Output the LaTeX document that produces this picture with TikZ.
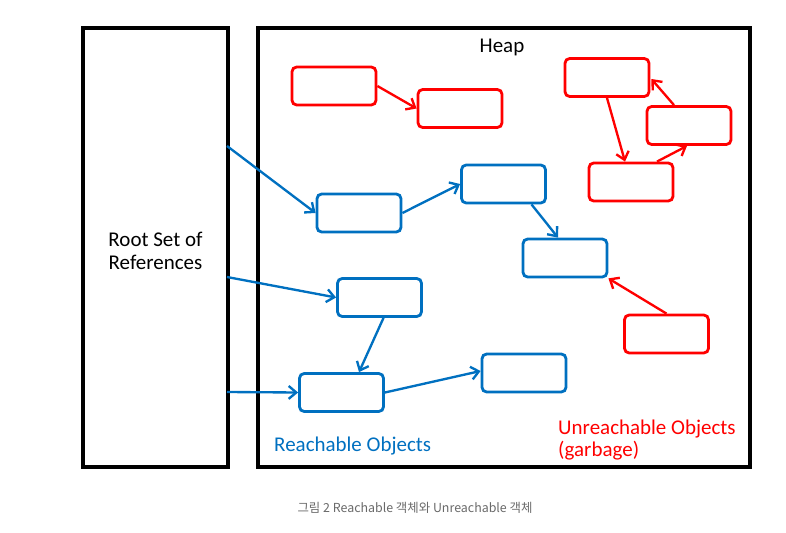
\documentclass[tikz,border=0pt]{standalone}
\usepackage{xcolor}
\usepackage{fontspec}
\setmainfont{Carlito}
\newfontfamily\krfont{Noto Sans CJK KR}
\usetikzlibrary{positioning,calc,arrows.meta}
\definecolor{objblue}{RGB}{0,112,192}
\definecolor{objred}{RGB}{255,0,0}
\definecolor{capgray}{RGB}{105,105,105}
\tikzset{
    obj/.style={draw, rounded corners=4pt, line width=2.4pt, minimum width=2.52cm, minimum height=1.14cm, fill=white},
    reach/.style={obj, draw=objblue},
    garbage/.style={obj, draw=objred},
    link/.style={line width=2pt, -{Straight Barb[length=6.5pt,width=11pt]}},
    bluelink/.style={link, objblue},
    redlink/.style={link, objred},
    big/.style={font=\fontsize{17.9}{19.5}\selectfont}
}
\begin{document}
\begin{tikzpicture}[x=0.03cm, y=-0.03cm]
    \useasboundingbox (0,0) rectangle (786,532);
    
    % Root set and heap
    \node [draw, line width=2.8pt, minimum width=4.35cm, minimum height=13.17cm] (root) at (155.5,247.5) {};
    \node [big, align=center] (rootlabel) at (155.5,251) {Root Set of\\References};
    \node [draw, line width=2.8pt, minimum width=14.76cm, minimum height=13.17cm] (heap) at (504,247.5) {};
    \node [big] (heaplabel) at (502,47.5) {Heap};
    
    % Reachable objects
    \node [reach] (b1) at (359,213) {};
    \node [reach] (b2) at (503.5,184) {};
    \node [reach] (b3) at (379.5,297.5) {};
    \node [reach] (b4) at (341.5,392.5) {};
    \node [reach] (b5) at (524,373) {};
    \node [reach] (b6) at (565,258) {};
    
    % Unreachable objects
    \node [garbage] (r1) at (334,86) {};
    \node [garbage] (r2) at (460,108.5) {};
    \node [garbage] (r3) at (607,77.5) {};
    \node [garbage] (r4) at (689,125.5) {};
    \node [garbage] (r5) at (631,182) {};
    \node [garbage] (r6) at (666.5,334) {};
    
    % References from the root set
    \coordinate (ref1) at (227,146);
    \coordinate (ref2) at (227,277);
    \coordinate (ref3) at (227,392);
    \draw [bluelink] (ref1) -- (b1.west);
    \draw [bluelink] (ref2) -- (b3.west);
    \draw [bluelink] (ref3) -- (b4.west);
    
    \draw [bluelink] (b1.east) -- (b2.west);
    \draw [bluelink] ($(b2.south)+(28,0)$) -- ($(b6.north)+(-7,0)$);
    \draw [bluelink] ($(b3.south)+(4,0)$) -- ($(b4.north)+(17.5,0)$);
    \draw [bluelink] (b4.east) -- ($(b5.west)+(0,-2)$);
    
    \draw [redlink] (r1.east) -- (r2.west);
    \draw [redlink] (r3.south) -- ($(r5.north)+(-6,0)$);
    \draw [redlink] ($(r4.north)+(-15,0)$) -- ($(r3.east)+(1,1.5)$);
    \draw [redlink] ($(r5.north)+(26,0)$) -- ($(r4.south)+(-2,0)$);
    \draw [redlink] (r6.north) -- (b6.south east);
    
    % Labels
    \node [big, text=objblue, anchor=west, inner sep=0pt] (reachlabel) at (274,446) {Reachable Objects};
    \node [big, text=objred, anchor=west, align=left, inner sep=0pt] (garbagelabel) at (558,440) {Unreachable Objects\\(garbage)};
    
    \node [text=capgray, font=\krfont\fontsize{10.6}{12}\selectfont] (caption) at (415,508) {그림 2 Reachable 객체와 Unreachable 객체};
\end{tikzpicture}
\end{document}
